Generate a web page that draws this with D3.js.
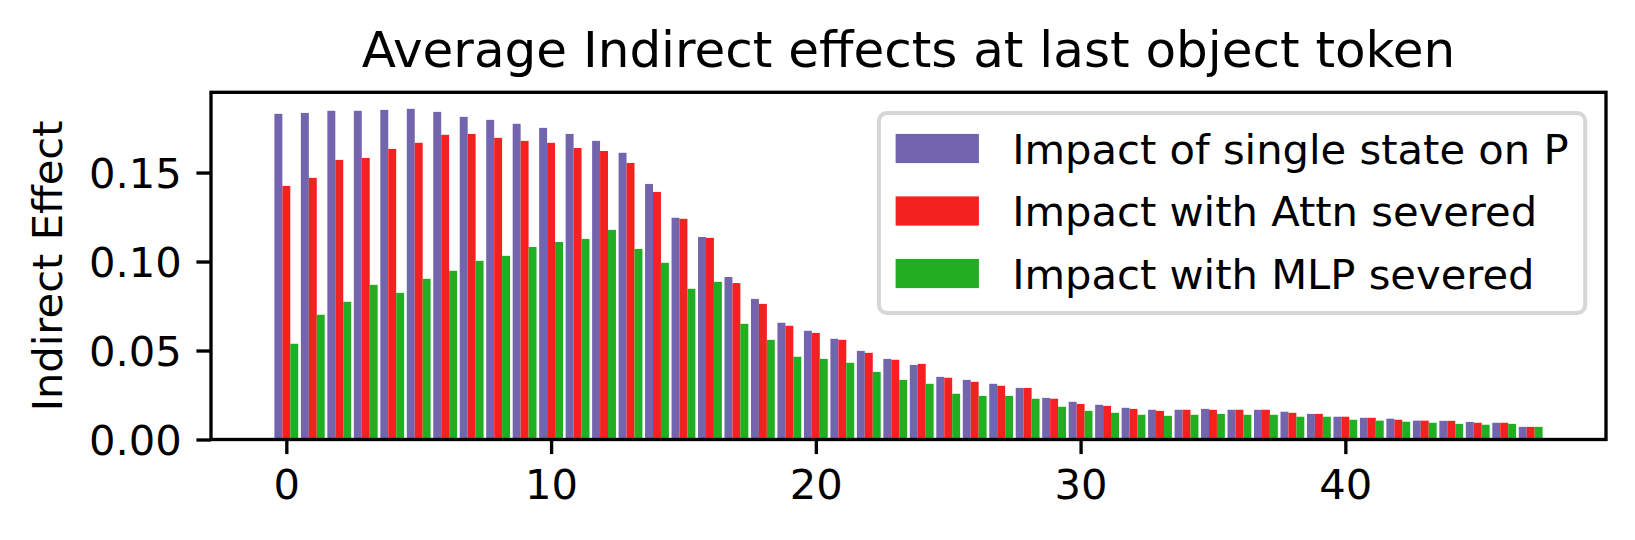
<!DOCTYPE html>
<html>
<head>
<meta charset="utf-8">
<script src="https://cdn.jsdelivr.net/npm/d3@7"></script>
<style>
  body { margin: 0; background: #fff; }
  text { font-family: "DejaVu Sans", sans-serif; fill: #000; }
</style>
</head>
<body>
<script>
var width = 1635,
    height = 540;

// donnees
var layers = d3.range(48);
var seriesNames = ["Impact of single state on P", "Impact with Attn severed", "Impact with MLP severed"];
var seriesColors = ["#7264ad", "#f42121", "#22ae22"];

var singleState = [0.1830, 0.1835, 0.1847, 0.1847, 0.1852, 0.1858, 0.1841, 0.1813, 0.1796, 0.1774,
    0.1751, 0.1717, 0.1678, 0.1611, 0.1436, 0.1246, 0.1138, 0.0913, 0.0790, 0.0656,
    0.0611, 0.0566, 0.0498, 0.0453, 0.0419, 0.0352, 0.0335, 0.0313, 0.0290, 0.0234,
    0.0212, 0.0195, 0.0178, 0.0167, 0.0167, 0.0172, 0.0167, 0.0167, 0.0156, 0.0144,
    0.0128, 0.0122, 0.0117, 0.0106, 0.0105, 0.0099, 0.0094, 0.0071];
var attnSevered = [0.1425, 0.1470, 0.1571, 0.1582, 0.1633, 0.1667, 0.1712, 0.1717, 0.1695, 0.1678,
    0.1667, 0.1638, 0.1621, 0.1554, 0.1391, 0.1240, 0.1133, 0.0879, 0.0762, 0.0639,
    0.0599, 0.0560, 0.0487, 0.0448, 0.0425, 0.0347, 0.0324, 0.0302, 0.0290, 0.0229,
    0.0200, 0.0189, 0.0172, 0.0161, 0.0167, 0.0167, 0.0167, 0.0167, 0.0150, 0.0144,
    0.0128, 0.0122, 0.0111, 0.0106, 0.0105, 0.0094, 0.0094, 0.0071];
var mlpSevered = [0.0538, 0.0701, 0.0774, 0.0869, 0.0824, 0.0903, 0.0948, 0.1004, 0.1032, 0.1082,
    0.1110, 0.1127, 0.1178, 0.1071, 0.0993, 0.0847, 0.0886, 0.0650, 0.0560, 0.0465,
    0.0453, 0.0431, 0.0380, 0.0335, 0.0313, 0.0257, 0.0245, 0.0245, 0.0229, 0.0184,
    0.0161, 0.0150, 0.0139, 0.0133, 0.0139, 0.0144, 0.0139, 0.0139, 0.0128, 0.0128,
    0.0111, 0.0106, 0.0100, 0.0094, 0.0088, 0.0083, 0.0088, 0.0071];
var yTicks = [0, 0.05, 0.10, 0.15];
var xTicks = [0, 10, 20, 30, 40];

var allSeries = [singleState, attnSevered, mlpSevered];
var barW = 0.3;
var offsets = [-0.3, 0, 0.3];

var fs = 41.67;
var axLeft = 211, axRight = 1606, axTop = 92.3, axBottom = 439.5;

var svg = d3.select("body").append("svg")
    .attr("width", width)
    .attr("height", height);

// limites comme matplotlib (marge 5%)
var xmin = -0.45, xmax = 47.45, xm = (xmax - xmin) * 0.05;
var x = d3.scaleLinear().domain([xmin - xm, xmax + xm]).range([axLeft, axRight]);
var ymax = d3.max(allSeries, function (s) { return d3.max(s); }) * 1.05;
var y = d3.scaleLinear().domain([0, ymax]).range([axBottom, axTop]);

// barres
allSeries.forEach(function (s, k) {
    svg.append("g").selectAll("rect")
        .data(layers)
        .join("rect")
        .attr("x", function (d) { return x(d + offsets[k] - barW / 2); })
        .attr("width", function (d) { return x(barW) - x(0); })
        .attr("y", function (d) { return y(s[d]); })
        .attr("height", function (d) { return y(0) - y(s[d]); })
        .attr("fill", seriesColors[k]);
});

// axes
var xAxis = d3.axisBottom(x).tickValues(xTicks).tickFormat(d3.format("d"))
    .tickSize(14.6).tickPadding(14.6);
var yAxis = d3.axisLeft(y).tickValues(yTicks).tickFormat(d3.format(".2f"))
    .tickSize(14.6).tickPadding(14.6);

var gx = svg.append("g").attr("transform", "translate(0," + axBottom + ")").call(xAxis);
var gy = svg.append("g").attr("transform", "translate(" + axLeft + ",0)").call(yAxis);

[gx, gy].forEach(function (g) {
    g.select(".domain").remove();
    g.selectAll(".tick line").attr("stroke", "#000").attr("stroke-width", 3.33);
    g.selectAll(".tick text").style("font-size", fs + "px").attr("fill", "#000");
});
gx.selectAll(".tick text").attr("dy", null).attr("y", 14.6 + 14.6 + 30.4);
gy.selectAll(".tick text").attr("dy", "0.36em");

// cadre
svg.append("rect")
    .attr("x", axLeft).attr("y", axTop)
    .attr("width", axRight - axLeft).attr("height", axBottom - axTop)
    .attr("fill", "none").attr("stroke", "#000").attr("stroke-width", 3.33);

// titre
svg.append("text")
    .attr("x", (axLeft + axRight) / 2).attr("y", 67)
    .attr("text-anchor", "middle")
    .style("font-size", "50px")
    .text("Average Indirect effects at last object token");

svg.append("text")
    .attr("transform", "translate(62," + (axTop + axBottom) / 2 + ") rotate(-90)")
    .attr("text-anchor", "middle")
    .style("font-size", fs + "px")
    .text("Indirect Effect");

// legende
var leg = svg.append("g");
var legBox = leg.append("rect");
var labels = leg.selectAll("text")
    .data(seriesNames)
    .join("text")
    .attr("y", function (d, i) { return 148.5 + i * 62.5 + 15; })
    .style("font-size", fs + "px")
    .text(function (d) { return d; });

var maxW = 0;
labels.each(function () { maxW = Math.max(maxW, this.getComputedTextLength()); });
var legW = 16.7 + 83.3 + 33.3 + maxW + 16.7;
var legRight = axRight - 20.8;
var legLeft = legRight - legW;
var legTop = axTop + 20.8;

legBox.attr("x", legLeft).attr("y", legTop)
    .attr("width", legW).attr("height", 313 - legTop)
    .attr("rx", 8).attr("ry", 8)
    .attr("fill", "#fff").attr("fill-opacity", 0.8)
    .attr("stroke", "#d6d6d6").attr("stroke-width", 4);

labels.attr("x", legLeft + 16.7 + 83.3 + 33.3);

leg.selectAll(".handle")
    .data(seriesColors)
    .join("rect")
    .attr("class", "handle")
    .attr("x", legLeft + 16.7)
    .attr("y", function (d, i) { return 148.5 + i * 62.5 - 14.6; })
    .attr("width", 83.3)
    .attr("height", 29.2)
    .attr("fill", function (d) { return d; });
</script>
</body>
</html>
